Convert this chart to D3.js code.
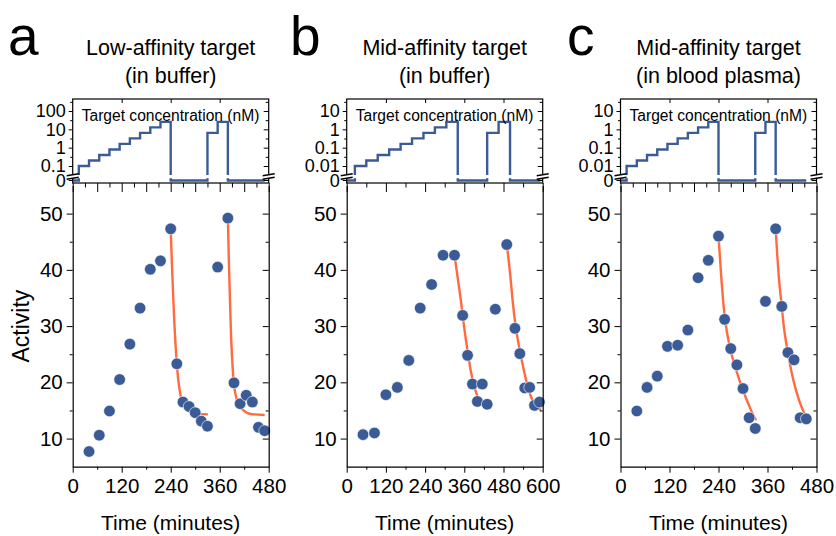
<!DOCTYPE html>
<html>
<head>
<meta charset="utf-8">
<script src="https://cdn.jsdelivr.net/npm/d3@7"></script>
<style>
  body { margin: 0; background: #fff; }
  svg { display: block; font-family: "Liberation Sans", Arial, sans-serif; }
</style>
</head>
<body>
<svg id="chart" width="836" height="536"></svg>
<script>
// ---- data ----
const titles = [
  ['Low-affinity target', '(in buffer)'],
  ['Mid-affinity target', '(in buffer)'],
  ['Mid-affinity target', '(in blood plasma)']
];
const letters = ['a', 'b', 'c'];

// measured activity (time in minutes)
const timeA = [40, 65, 90, 115, 140, 165, 190, 215, 240, 255, 270, 285, 300, 315, 330, 355, 380, 395, 410, 425, 440, 455, 470];
const actA  = [7.7, 10.6, 14.9, 20.5, 26.8, 33.2, 40.1, 41.6, 47.3, 23.3, 16.5, 15.7, 14.6, 13.1, 12.2, 40.5, 49.2, 19.9, 16.2, 17.7, 16.5, 12.0, 11.4];
const timeB = [50, 85, 120, 155, 190, 225, 260, 295, 330, 355, 370, 385, 400, 415, 430, 455, 490, 515, 530, 545, 560, 575, 590];
const actB  = [10.7, 11.0, 17.8, 19.1, 23.9, 33.2, 37.4, 42.6, 42.6, 31.9, 24.8, 19.7, 16.6, 19.7, 16.1, 33.0, 44.5, 29.6, 25.1, 19.0, 19.1, 15.9, 16.5];
const timeC = [40, 65, 90, 115, 140, 165, 190, 215, 240, 255, 270, 285, 300, 315, 330, 355, 380, 395, 410, 425, 440, 455];
const actC  = [14.9, 19.1, 21.1, 26.4, 26.6, 29.3, 38.6, 41.7, 46.0, 31.2, 26.0, 23.1, 18.9, 13.7, 11.8, 34.4, 47.3, 33.5, 25.3, 24.0, 13.7, 13.5];

// fitted decay curves
const fitA1 = [[240, 47.3], [243, 41], [246, 35.5], [249, 30.5], [252, 26.5], [255, 23.3], [258, 20.8], [262, 18.6], [267, 16.8], [274, 15.6], [283, 14.9], [295, 14.55], [310, 14.4], [331, 14.3]];
const fitA2 = [[380, 49.2], [382, 43], [384, 37.5], [386, 32.5], [388, 28], [390, 24.8], [392, 22.3], [394, 20.3], [397, 18.5], [401, 17.2], [406, 16.3], [412, 15.5], [420, 14.9], [430, 14.5], [445, 14.3], [470, 14.2]];
const fitB1 = [[330, 42.6], [340, 38.5], [350, 34.3], [358, 30.5], [365, 27.5], [372, 24.8], [380, 22], [388, 19.8], [398, 17.9], [410, 16.4], [422, 15.6], [430, 15.2]];
const fitB2 = [[490, 44.5], [500, 39.5], [508, 34.5], [516, 30.5], [524, 27.5], [532, 25], [540, 22.8], [548, 20.7], [556, 18.9], [565, 17.3], [575, 16.2], [585, 15.5], [595, 15.1]];
const fitC1 = [[240, 46], [247, 38.5], [254, 32.5], [261, 28.8], [269, 25.9], [277, 23.7], [285, 21.8], [293, 20], [301, 18.4], [309, 16.9], [317, 15.5], [325, 14.2], [332, 13.3]];
const fitC2 = [[380, 47.3], [384, 42.5], [388, 38.5], [392, 35.5], [395, 33.5], [399, 30.5], [404, 27.8], [410, 25.3], [417, 22.5], [424, 20.2], [431, 18.3], [439, 16.5], [447, 15], [455, 13.8]];

// target concentration steps [start time, nM] (0 = no target)
const concA = [[0, 0], [15, 0.1], [40, 0.2], [65, 0.4], [90, 0.8], [115, 1.6], [140, 3.2], [165, 6.4], [190, 12.8], [215, 25.6], [240, 0], [330, 6.4], [355, 25.6], [380, 0], [470, 0]];
const concB = [[0, 0], [25, 0.01], [60, 0.02], [95, 0.04], [130, 0.08], [165, 0.16], [200, 0.32], [235, 0.64], [270, 1.28], [305, 2.56], [340, 0], [430, 0.64], [465, 2.56], [500, 0], [593, 0]];
const concC = [[0, 0], [15, 0.01], [40, 0.02], [65, 0.04], [90, 0.08], [115, 0.16], [140, 0.32], [165, 0.64], [190, 1.28], [215, 2.56], [240, 0], [330, 0.64], [355, 2.56], [380, 0], [455, 0]];

const xMaxes = [480, 600, 480];
const xTicksA = [0, 120, 240, 360, 480];
const xTicksB = [0, 120, 240, 360, 480, 600];
const concTicksA = [0.1, 1, 10, 100];
const concTicksB = [0.01, 0.1, 1, 10];
const activityTicks = [10, 20, 30, 40, 50];

const panels = [
  { t: timeA, v: actA, fits: [fitA1, fitA2], conc: concA, xMax: xMaxes[0], xTicks: xTicksA, cTicks: concTicksA, sub: 60 },
  { t: timeB, v: actB, fits: [fitB1, fitB2], conc: concB, xMax: xMaxes[1], xTicks: xTicksB, cTicks: concTicksB, sub: 120 },
  { t: timeC, v: actC, fits: [fitC1, fitC2], conc: concC, xMax: xMaxes[2], xTicks: xTicksA, cTicks: concTicksB, sub: 60 }
];

// ---- layout ----
const lefts = [72.7, 346.7, 620.5];
const letterX = [8, 290, 567];
const plotW = 196;
const upTop = 99, upBottom = 183, zeroY = 180.5, breakY = 176.5;
const lowTop = 185.5, lowBottom = 466.7;

const blue = '#3a5b96';
const orange = '#ff6a3f';

const svg = d3.select('#chart');

svg.append('text')
  .attr('transform', `translate(29,${(lowTop + lowBottom) / 2}) rotate(-90)`)
  .attr('text-anchor', 'middle')
  .style('font-size', '23px')
  .text('Activity');

panels.forEach((p, i) => {
  const left = lefts[i];
  const g = svg.append('g').attr('transform', `translate(${left},0)`);

  const x = d3.scaleLinear().domain([0, p.xMax]).range([0, plotW]);
  const y = d3.scaleLinear().domain([5, 55]).range([lowBottom, lowTop]);
  const yc = d3.scaleLog().domain([p.cTicks[0], p.cTicks[3]]).range([166, 111]);
  const cy = c => c === 0 ? zeroY : yc(c);

  // letter and title
  svg.append('text')
    .attr('x', letterX[i]).attr('y', 55)
    .style('font-size', '55px')
    .text(letters[i]);
  titles[i].forEach((line, k) => {
    g.append('text')
      .attr('x', plotW / 2).attr('y', 55 + k * 28)
      .attr('text-anchor', 'middle')
      .style('font-size', '21.5px')
      .text(line);
  });

  // ---------- upper panel: target concentration ----------
  const up = g.append('g');
  const stepPts = [];
  p.conc.forEach((d, k) => {
    if (k > 0) stepPts.push([d[0], p.conc[k - 1][1]]);
    stepPts.push(d);
  });
  up.append('path')
    .datum(stepPts)
    .attr('fill', 'none')
    .attr('stroke', blue)
    .attr('stroke-width', 2.4)
    .attr('d', d3.line().x(d => x(d[0])).y(d => cy(d[1])));
  // gap where the axis is broken
  up.append('rect')
    .attr('x', 1).attr('y', breakY - 1.5)
    .attr('width', plotW - 2).attr('height', 3.2)
    .attr('fill', '#fff');

  up.append('text')
    .attr('x', 9).attr('y', 121)
    .style('font-size', '15.6px')
    .text('Target concentration (nM)');

  const cMinor = p.cTicks.map(c => c * Math.sqrt(10));
  const cFmt = c => String(c);

  const leftAx = d3.axisLeft(yc).tickValues(p.cTicks).tickSize(4).tickSizeOuter(0).tickPadding(3).tickFormat(cFmt);
  up.append('g').call(leftAx).call(s => s.select('.domain').remove());
  up.append('g').call(d3.axisLeft(yc).tickValues(cMinor).tickSize(2.5).tickFormat(''))
    .call(s => s.select('.domain').remove());
  up.append('g').call(d3.axisRight(yc).tickValues(p.cTicks).tickSize(-5).tickFormat(''))
    .attr('transform', `translate(${plotW},0)`)
    .call(s => s.select('.domain').remove());
  up.append('g').call(d3.axisRight(yc).tickValues(cMinor).tickSize(-3).tickFormat(''))
    .attr('transform', `translate(${plotW},0)`)
    .call(s => s.select('.domain').remove());
  // zero tick
  const zero = up.append('g');
  zero.append('line').attr('x1', -4).attr('x2', 0).attr('y1', zeroY).attr('y2', zeroY).attr('stroke', '#000');
  zero.append('line').attr('x1', plotW - 5).attr('x2', plotW).attr('y1', zeroY).attr('y2', zeroY).attr('stroke', '#000');
  zero.append('text').attr('x', -7).attr('y', zeroY + 1).attr('dy', '0.32em')
    .attr('text-anchor', 'end').style('font-size', '18px').text('0');

  // frame
  up.append('rect')
    .attr('x', 0).attr('y', upTop).attr('width', plotW).attr('height', upBottom - upTop)
    .attr('fill', 'none').attr('stroke', '#000').attr('stroke-width', 1.2);

  // top ticks (inward) and bottom ticks (outward, down)
  up.append('g').attr('transform', `translate(0,${upTop})`)
    .call(d3.axisTop(x).tickValues(p.xTicks.filter(v => v > 0 && v < p.xMax)).tickSize(-4).tickFormat(''))
    .call(s => s.select('.domain').remove());
  const subTicks = d3.range(0, p.xMax + 1, p.sub);
  const subMinor = d3.range(p.sub / 2, p.xMax, p.sub);
  up.append('g').attr('transform', `translate(0,${upBottom})`)
    .call(d3.axisBottom(x).tickValues(subTicks).tickSize(9).tickFormat(''))
    .call(s => s.select('.domain').remove());
  up.append('g').attr('transform', `translate(0,${upBottom})`)
    .call(d3.axisBottom(x).tickValues(subMinor).tickSize(4.5).tickFormat(''))
    .call(s => s.select('.domain').remove());

  // axis break marks
  [0, plotW].forEach(bx => {
    up.append('rect').attr('x', bx - 1.5).attr('y', breakY - 1.6).attr('width', 3).attr('height', 3.2).attr('fill', '#fff');
    [-1.8, 1.8].forEach(off => {
      up.append('line')
        .attr('x1', bx - 6).attr('y1', breakY + off + 1)
        .attr('x2', bx + 6).attr('y2', breakY + off - 1)
        .attr('stroke', '#000').attr('stroke-width', 1.4);
    });
  });

  // ---------- lower panel: activity ----------
  const low = g.append('g');
  const line = d3.line().x(d => x(d[0])).y(d => y(d[1])).curve(d3.curveMonotoneX);
  p.fits.forEach(f => {
    low.append('path').datum(f)
      .attr('fill', 'none').attr('stroke', orange).attr('stroke-width', 2.4)
      .attr('d', line);
  });
  low.selectAll('circle')
    .data(p.t.map((t, k) => [t, p.v[k]]))
    .enter()
      .append('circle')
      .attr('cx', d => x(d[0]))
      .attr('cy', d => y(d[1]))
      .attr('r', 5.8)
      .attr('fill', blue)
      .attr('stroke', '#fff')
      .attr('stroke-width', 0.6);

  const minorX = d3.range(60, p.xMax, 120);
  const minorY = [15, 25, 35, 45];

  low.append('g').attr('transform', `translate(0,${lowBottom})`)
    .call(d3.axisBottom(x).tickValues(p.xTicks).tickSize(6).tickSizeOuter(0).tickPadding(6))
    .call(s => s.selectAll('text').style('font-size', '20.5px'));
  low.append('g').attr('transform', `translate(0,${lowBottom})`)
    .call(d3.axisBottom(x).tickValues(minorX).tickSize(3).tickFormat(''))
    .call(s => s.select('.domain').remove());
  low.append('g')
    .call(d3.axisLeft(y).tickValues(activityTicks).tickSize(6).tickSizeOuter(0).tickPadding(4))
    .call(s => s.selectAll('text').style('font-size', '20.5px'));
  low.append('g')
    .call(d3.axisLeft(y).tickValues(minorY).tickSize(3).tickFormat(''))
    .call(s => s.select('.domain').remove());
  low.append('g').attr('transform', `translate(${plotW},0)`)
    .call(d3.axisRight(y).tickValues(activityTicks).tickSize(-6).tickSizeOuter(0).tickFormat(''));
  low.append('g').attr('transform', `translate(${plotW},0)`)
    .call(d3.axisRight(y).tickValues(minorY).tickSize(-3).tickFormat(''))
    .call(s => s.select('.domain').remove());

  g.append('text')
    .attr('x', plotW / 2).attr('y', 530)
    .attr('text-anchor', 'middle')
    .style('font-size', '21px')
    .text('Time (minutes)');

  // tidy up axis styling
  g.selectAll('.tick text').style('font-family', '"Liberation Sans", Arial, sans-serif').attr('fill', '#000');
  g.selectAll('.domain').attr('stroke-width', 1.2);
  up.selectAll('.tick text').style('font-size', '18px');
});
</script>
</body>
</html>
